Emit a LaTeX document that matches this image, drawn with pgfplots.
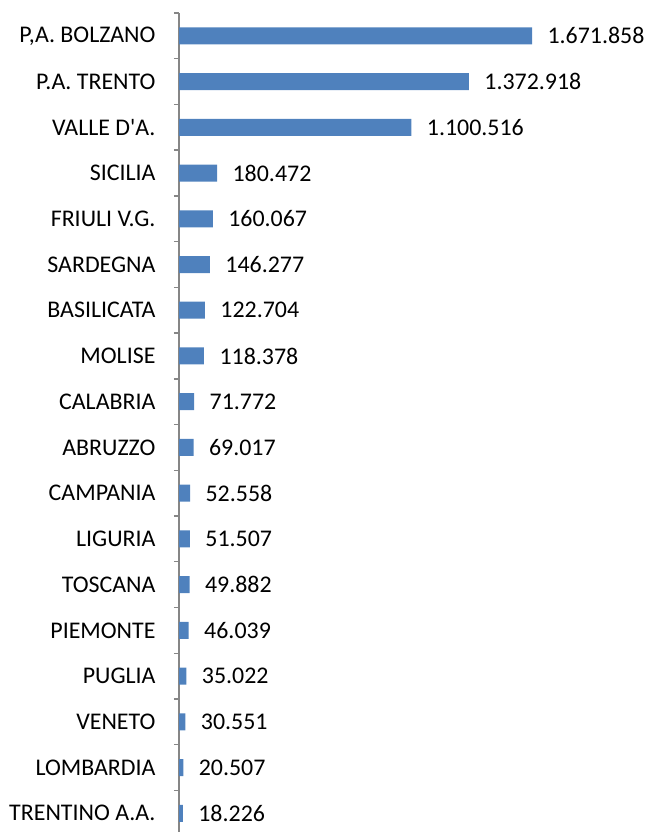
\documentclass[border=0pt]{standalone}
\usepackage{pgfplots}
\pgfplotsset{compat=1.18}
\usepackage{pgfplotstable}
\usepackage{fontspec}
\setmainfont{Carlito}
\definecolor{barblue}{HTML}{4F81BD}
\definecolor{axgray}{HTML}{868686}
\pgfplotstableread[col sep=comma]{
val,pos,lab
1671858,0,1.671.858
1372918,1,1.372.918
1100516,2,1.100.516
180472,3,180.472
160067,4,160.067
146277,5,146.277
122704,6,122.704
118378,7,118.378
71772,8,71.772
69017,9,69.017
52558,10,52.558
51507,11,51.507
49882,12,49.882
46039,13,46.039
35022,14,35.022
30551,15,30.551
20507,16,20.507
18226,17,18.226
}\datatable
\begin{document}
\begin{tikzpicture}
\useasboundingbox (0,0) rectangle (647bp,832bp);
\begin{axis}[
  at={(179bp,0bp)}, anchor=south west,
  scale only axis=true,
  width=468bp, height=819bp,
  xmin=0, xmax=2216500,
  ymin=-0.5, ymax=17.41,
  y dir=reverse,
  axis x line=none,
  axis y line*=left,
  axis line style={axgray, line width=1.4bp, -},
  ytick={0,...,17},
  yticklabels={{P,A. BOLZANO},{P.A. TRENTO},{VALLE D\textquotesingle A.},SICILIA,{FRIULI V.G.},SARDEGNA,BASILICATA,MOLISE,CALABRIA,ABRUZZO,CAMPANIA,LIGURIA,TOSCANA,PIEMONTE,PUGLIA,VENETO,LOMBARDIA,{TRENTINO A.A.}},
  major tick length=0pt,
  minor ytick={-0.5,0.5,...,16.5},
  minor tick length=5bp,
  tick align=outside,
  minor tick style={axgray, line width=1.4bp},
  yticklabel style={font=\fontsize{24}{28}\selectfont, text=black, xshift=-20bp},
  clip=false,
  xbar, bar width=17bp,
  nodes near coords,
  point meta=explicit symbolic,
  nodes near coords style={font=\fontsize{24}{28}\selectfont, text=black, anchor=west, xshift=12bp},
]
\addplot[fill=barblue, draw=none] table[x=val, y=pos, meta=lab] {\datatable};
\end{axis}
\end{tikzpicture}
\end{document}
